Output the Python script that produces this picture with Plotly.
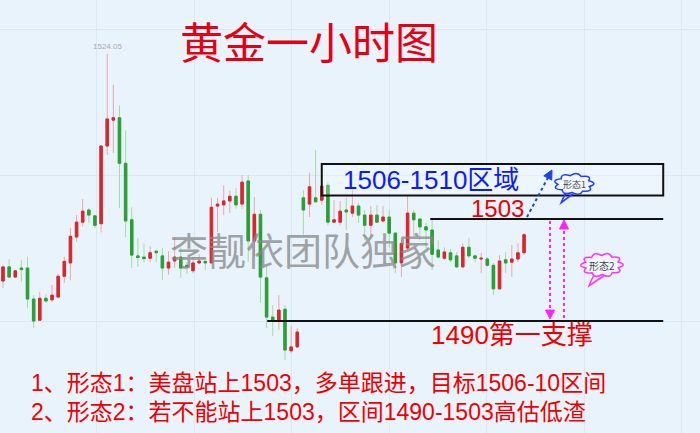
import math
import plotly.graph_objects as go

# ---------------- data ----------------
open_ = [1495.1, 1496.9, 1495.6, 1496.75, 1496.75, 1492.8, 1490.1, 1492.9, 1492.7, 1493.05,
         1495.7, 1497.4, 1500.7, 1502.6, 1504.15, 1503.4, 1502.4, 1512.3, 1515.6, 1515.9,
         1510.1, 1502.9, 1498.3, 1498.15, 1498.0, 1498.9, 1498.3, 1496.75, 1497.65, 1498.15,
         1497.1, 1496.4, 1497.4, 1497.6, 1497.4, 1504.65, 1504.8, 1505.3, 1505.9, 1504.9,
         1507.85, 1500.2, 1503.6, 1495.5, 1490.5, 1490.1, 1491.5, 1486.2, 1486.7, 1505.7,
         1504.9, 1505.7, 1505.4, 1507.3, 1502.6, 1502.6, 1504.15, 1503.75, 1504.65, 1503.5,
         1502.2, 1503.5, 1502.75, 1503.25, 1501.2, 1497.4, 1499.3, 1503.75, 1503.0, 1502.0,
         1501.6, 1499.05, 1498.0, 1498.7, 1498.3, 1496.9, 1499.4, 1498.3, 1497.9, 1497.9,
         1497.1, 1494.1, 1497.8, 1497.5, 1497.9, 1498.7]
high = [1497.1, 1497.9, 1496.5, 1497.8, 1498.2, 1493.3, 1493.7, 1493.4, 1494.6, 1496.0,
        1498.2, 1501.85, 1503.5, 1505.55, 1504.4, 1503.5, 1512.4, 1524.05, 1520.1, 1517.5,
        1514.3, 1504.5, 1500.6, 1499.9, 1499.55, 1499.05, 1499.3, 1498.9, 1500.7, 1499.4,
        1497.5, 1498.15, 1498.5, 1497.7, 1505.7, 1505.7, 1507.3, 1506.6, 1506.95, 1508.6,
        1508.6, 1505.8, 1504.15, 1496.9, 1492.0, 1493.3, 1492.0, 1489.4, 1489.1, 1506.7,
        1508.9, 1511.8, 1507.3, 1507.7, 1505.4, 1505.3, 1505.7, 1506.7, 1505.05, 1504.15,
        1504.65, 1504.8, 1504.65, 1504.15, 1501.3, 1500.6, 1506.05, 1504.15, 1503.1, 1502.5,
        1502.9, 1500.3, 1499.4, 1499.2, 1498.8, 1499.9, 1500.6, 1498.5, 1498.7, 1498.15,
        1497.4, 1498.4, 1498.8, 1499.7, 1499.9, 1501.2]
low = [1494.2, 1495.5, 1495.5, 1495.0, 1491.65, 1489.1, 1490.0, 1492.3, 1492.4, 1492.9,
       1494.85, 1495.2, 1500.1, 1502.0, 1502.5, 1501.85, 1501.3, 1511.15, 1511.4, 1504.4,
       1500.7, 1496.75, 1496.9, 1497.5, 1497.5, 1497.5, 1495.2, 1495.9, 1496.75, 1495.5,
       1496.0, 1496.1, 1497.3, 1496.5, 1497.3, 1501.3, 1503.5, 1503.75, 1504.3, 1504.3,
       1497.5, 1498.15, 1492.3, 1489.1, 1488.1, 1488.85, 1485.0, 1485.9, 1486.55, 1501.0,
       1503.25, 1505.05, 1504.8, 1502.2, 1502.5, 1502.2, 1501.6, 1503.25, 1502.5, 1500.3,
       1500.6, 1502.5, 1502.5, 1499.3, 1496.1, 1495.6, 1499.05, 1500.7, 1500.3, 1499.3,
       1496.5, 1498.0, 1497.8, 1497.5, 1496.75, 1496.8, 1498.0, 1497.5, 1496.1, 1496.9,
       1493.3, 1493.95, 1496.1, 1495.6, 1497.5, 1498.4]
close = [1496.9, 1495.6, 1496.4, 1496.55, 1492.8, 1490.0, 1492.9, 1492.55, 1493.3, 1495.7,
         1497.6, 1500.8, 1502.6, 1504.0, 1503.5, 1502.2, 1512.3, 1515.75, 1515.9, 1510.1,
         1502.75, 1498.4, 1498.1, 1497.95, 1498.7, 1498.7, 1496.75, 1497.5, 1498.15, 1496.75,
         1496.9, 1497.4, 1497.65, 1497.4, 1504.5, 1504.9, 1505.3, 1505.9, 1504.8, 1507.7,
         1500.2, 1503.6, 1495.6, 1490.5, 1490.0, 1491.4, 1486.3, 1486.7, 1488.6, 1504.15,
         1507.1, 1505.2, 1507.2, 1502.6, 1502.9, 1504.0, 1503.9, 1504.65, 1503.5, 1502.2,
         1503.5, 1502.6, 1503.25, 1501.2, 1497.4, 1499.9, 1503.75, 1502.9, 1502.0, 1501.6,
         1498.5, 1498.15, 1498.8, 1497.8, 1496.9, 1499.4, 1498.3, 1498.0, 1498.0, 1497.1,
         1494.1, 1497.65, 1497.4, 1497.9, 1498.7, 1501.0]
bar_index = list(range(len(open_)))

level_resist = 1503
level_support = 1490
zone_low, zone_high = 1506, 1510
peak_label = "1524.05"

title_text = "黄金一小时图"
watermark = "李靓依团队独家"
zone_text = "1506-1510区域"
resist_text = "1503"
support_text = "1490第一支撑"
cloud1_text = "形态1"
cloud2_text = "形态2"
note1 = "1、形态1：美盘站上1503，多单跟进，目标1506-10区间"
note2 = "2、形态2：若不能站上1503，区间1490-1503高估低渣"

# ---------------- styling ----------------
W, H = 700, 433
BG = "#e9f3fc"
GRID = "#dbe7f2"
RED_BODY, RED_WICK = "#d9262c", "#eba6ae"
GREEN_BODY, GREEN_WICK = "#2a9f35", "#a3dba4"
CJK = "Noto Sans CJK SC"
LATIN = "Liberation Sans, Noto Sans CJK SC"


def px(x):
    return x / W


def py(y):
    return 1 - y / H


fig = go.Figure()

# wicks (light)
fig.add_trace(go.Candlestick(
    x=bar_index, open=open_, high=high, low=low, close=close,
    increasing=dict(line=dict(color=RED_WICK, width=1), fillcolor=RED_WICK),
    decreasing=dict(line=dict(color=GREEN_WICK, width=1), fillcolor=GREEN_WICK),
    whiskerwidth=0, showlegend=False, hoverinfo="skip"))
# bodies (dark)
body_hi = [max(o, c) for o, c in zip(open_, close)]
body_lo = [min(o, c) for o, c in zip(open_, close)]
fig.add_trace(go.Candlestick(
    x=bar_index, open=open_, high=body_hi, low=body_lo, close=close,
    increasing=dict(line=dict(color=RED_BODY, width=1), fillcolor=RED_BODY),
    decreasing=dict(line=dict(color=GREEN_BODY, width=1), fillcolor=GREEN_BODY),
    whiskerwidth=0, showlegend=False, hoverinfo="skip"))

shapes = []
# zone box and level lines (data coordinates)
shapes.append(dict(type="rect", xref="x", yref="y", x0=52.0, x1=107.7,
                   y0=zone_low, y1=zone_high, line=dict(color="#111", width=2),
                   fillcolor="rgba(255,255,255,0.25)"))
shapes.append(dict(type="line", xref="x", yref="y", x0=69.7, x1=107.7,
                   y0=level_resist, y1=level_resist, line=dict(color="#111", width=2)))
shapes.append(dict(type="line", xref="x", yref="y", x0=43.1, x1=107.7,
                   y0=level_support, y1=level_support, line=dict(color="#111", width=2)))


def arrow(x0, y0, x1, y1, color, head=9, half=4.5):
    dx, dy = x1 - x0, y1 - y0
    L = math.hypot(dx, dy)
    ux, uy = dx / L, dy / L
    bx, by = x1 - head * ux, y1 - head * uy
    nx, ny = -uy, ux
    out = [dict(type="line", xref="paper", yref="paper",
                x0=px(x0), y0=py(y0), x1=px(bx), y1=py(by),
                line=dict(color=color, width=2, dash="dot"))]
    p = "M{},{} L{},{} L{},{} Z".format(
        px(x1), py(y1), px(bx + half * nx), py(by + half * ny),
        px(bx - half * nx), py(by - half * ny))
    out.append(dict(type="path", xref="paper", yref="paper", path=p,
                    fillcolor=color, line=dict(color=color, width=1)))
    return out


shapes += arrow(527, 217, 552, 170, "#2040ee")
shapes += arrow(550, 221, 550, 319, "#ff22ff")
shapes += arrow(564, 318, 564, 220, "#ff22ff")


def cloud(cx, cy, rx, ry, n, tail, color):
    pts = []
    for k in range(n + 1):
        t = 2 * math.pi * k / n + 0.3
        pts.append((cx + rx * math.cos(t), cy + ry * math.sin(t)))
    d = "M{},{}".format(px(pts[0][0]), py(pts[0][1]))
    for k in range(n):
        tm = 2 * math.pi * (k + 0.5) / n + 0.3
        c = (cx + 1.55 * rx * math.cos(tm), cy + 1.55 * ry * math.sin(tm))
        d += " Q{},{} {},{}".format(px(c[0]), py(c[1]), px(pts[k + 1][0]), py(pts[k + 1][1]))
    d += " Z"
    (ax, ay), (tx, ty), (bx, by) = tail
    t = "M{},{} Q{},{} {},{} Q{},{} {},{}".format(
        px(ax), py(ay), px((ax + tx) / 2 - 1), py((ay + ty) / 2 + 1), px(tx), py(ty),
        px((bx + tx) / 2 + 2), py((by + ty) / 2 - 2), px(bx), py(by))
    return [dict(type="path", xref="paper", yref="paper", path=d,
                 fillcolor="rgba(255,255,255,0.35)", line=dict(color=color, width=1.5)),
            dict(type="path", xref="paper", yref="paper", path=t,
                 line=dict(color=color, width=1.5))]


shapes += cloud(574, 184, 16, 8.5, 9, ((566, 193), (561, 203), (573, 194)), "#2040ff")
shapes += cloud(602, 265, 17, 9.5, 10, ((594, 275), (589, 286), (604, 276)), "#ff33ff")


def label(text, x, y, size, color, family, xanchor="center"):
    return dict(text=text, xref="paper", yref="paper", x=px(x), y=py(y),
                xanchor=xanchor, yanchor="middle", showarrow=False,
                font=dict(family=family, size=size, color=color))


annotations = [
    label(title_text, 309, 40, 43, "#e60012", CJK),
    label(watermark, 303, 248, 38, "rgba(135,135,135,0.75)", CJK),
    dict(text=peak_label, xref="x", yref="y", x=17, y=max(high), yshift=7,
         xanchor="center", yanchor="middle", showarrow=False,
         font=dict(family=LATIN, size=8, color="#a8a8a8")),
    label(zone_text, 341, 180, 26, "#0a1aff", LATIN, "left"),
    label(resist_text, 469, 209, 24, "#ee0000", LATIN, "left"),
    label(support_text, 429, 335, 26, "#ee0000", LATIN, "left"),
    label(cloud1_text, 574, 184, 9, "#444", CJK),
    label(cloud2_text, 602, 265, 10, "#444", CJK),
    label(note1, 29, 383, 23, "#ee0000", LATIN, "left"),
    label(note2, 29, 412, 23, "#ee0000", LATIN, "left"),
]

fig.update_layout(
    width=W, height=H, margin=dict(l=0, r=0, t=0, b=0),
    paper_bgcolor=BG, plot_bgcolor=BG, boxgap=0.42,
    shapes=shapes, annotations=annotations, showlegend=False,
    xaxis=dict(range=[-0.49, 113.7], showticklabels=False, ticks="", showgrid=True,
               gridcolor=GRID, gridwidth=1, tick0=15.33, dtick=15.9, zeroline=False,
               showline=False, rangeslider=dict(visible=False), fixedrange=True),
    yaxis=dict(range=[1475.73, 1530.91], showticklabels=False, ticks="", showgrid=True,
               gridcolor=GRID, gridwidth=1, tick0=1490, dtick=18.6, zeroline=False,
               showline=False, fixedrange=True),
)

fig.write_html("out.html", config={"displayModeBar": False},
               post_script="document.body.style.margin='0px';")
